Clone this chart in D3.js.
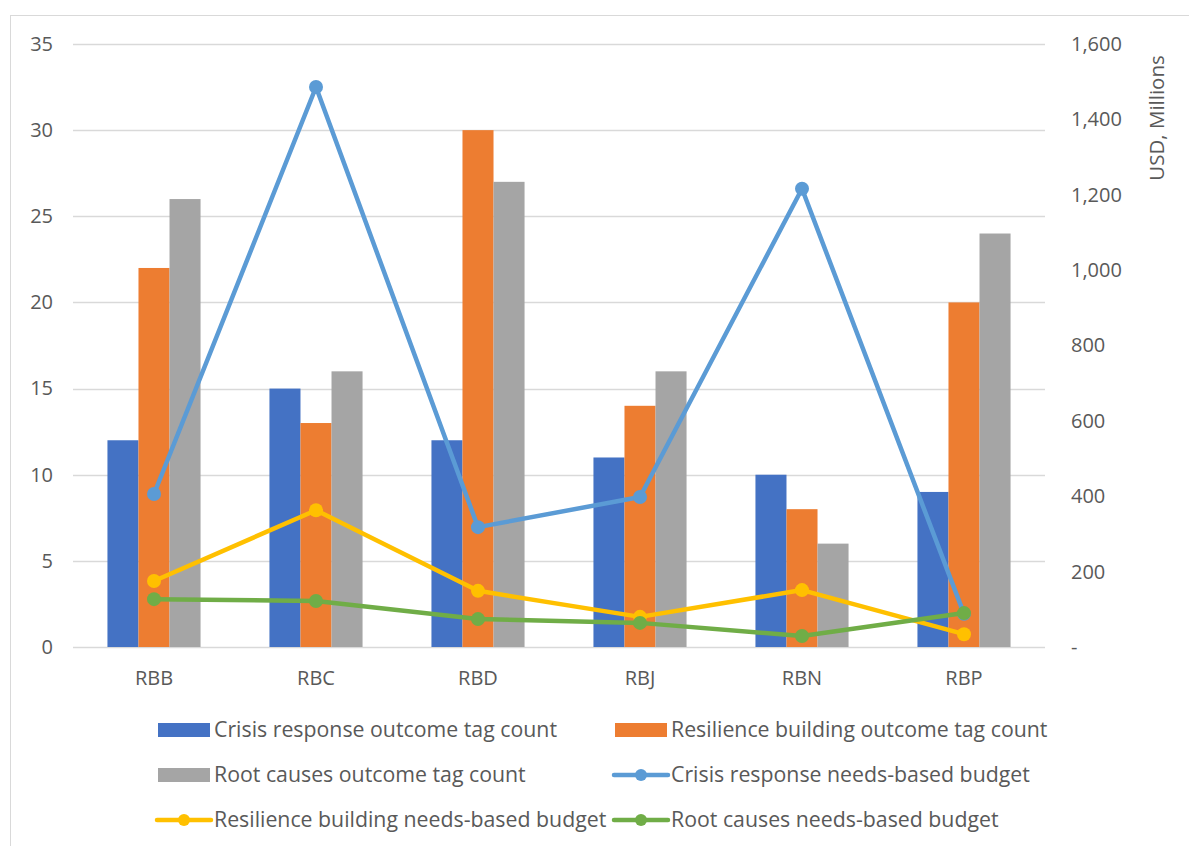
<!DOCTYPE html>
<html>
<head>
<meta charset="utf-8">
<script src="https://cdn.jsdelivr.net/npm/d3@7"></script>
<style>
  body { margin: 0; background: #fff; }
  svg { font-family: "Open Sans", sans-serif; }
</style>
</head>
<body>
<svg id="chart" width="1189" height="846"></svg>
<script>
// categories and series
var regions = ["RBB", "RBC", "RBD", "RBJ", "RBN", "RBP"];

var crisisCount     = [12, 15, 12, 11, 10, 9];
var resilienceCount = [22, 13, 30, 14, 8, 20];
var rootCount       = [26, 16, 27, 16, 6, 24];

var crisisBudget     = [406, 1486, 318, 398, 1216, 88];
var resilienceBudget = [175, 363, 149, 80, 151, 34];
var rootBudget       = [127, 122, 74, 64, 29, 90];

var leftTicks  = [0, 5, 10, 15, 20, 25, 30, 35];
var rightTicks = [0, 200, 400, 600, 800, 1000, 1200, 1400, 1600];

var barSeries = [
  {name: "Crisis response outcome tag count", values: crisisCount, color: "#4472c4"},
  {name: "Resilience building outcome tag count", values: resilienceCount, color: "#ed7d31"},
  {name: "Root causes outcome tag count", values: rootCount, color: "#a5a5a5"}
];
var lineSeries = [
  {name: "Crisis response needs-based budget", values: crisisBudget, color: "#5b9bd5"},
  {name: "Resilience building needs-based budget", values: resilienceBudget, color: "#ffc000"},
  {name: "Root causes needs-based budget", values: rootBudget, color: "#70ad47"}
];

var svg = d3.select("#chart");

// outer chart border (runs off the right/bottom edges)
svg.append("rect")
  .attr("x", 10.5).attr("y", 15.5)
  .attr("width", 1200).attr("height", 900)
  .attr("fill", "none").attr("stroke", "#d9d9d9");

var plotLeft = 73, plotRight = 1045, plotTop = 44, plotBottom = 647;

var x = d3.scaleBand().domain(regions).range([plotLeft, plotRight]);
var xInner = d3.scaleBand().domain([0, 1, 2])
  .range([0, x.bandwidth()]).paddingInner(0).paddingOuter(1.11);
var yL = d3.scaleLinear().domain([0, 35]).range([plotBottom, plotTop]);
var yR = d3.scaleLinear().domain([0, 1600]).range([plotBottom, plotTop]);

// gridlines
svg.append("g").selectAll("line")
  .data(leftTicks)
  .join("line")
  .attr("x1", plotLeft).attr("x2", plotRight)
  .attr("y1", function(d){ return Math.round(yL(d)) + 0.5; })
  .attr("y2", function(d){ return Math.round(yL(d)) + 0.5; })
  .attr("stroke", "#d9d9d9").attr("stroke-width", 1.5);

// left axis
var axL = svg.append("g")
  .attr("transform", "translate(" + plotLeft + ",0)")
  .call(d3.axisLeft(yL).tickValues(leftTicks).tickSize(0).tickPadding(20));
axL.select(".domain").remove();
axL.selectAll("text").attr("fill", "#595959").style("font-size", "20px")
  .style("font-family", "Open Sans");

// right axis
var axR = svg.append("g")
  .attr("transform", "translate(" + plotRight + ",0)")
  .call(d3.axisRight(yR).tickValues(rightTicks).tickSize(0).tickPadding(26)
    .tickFormat(function(d){ return d === 0 ? "-" : d3.format(",")(d); }));
axR.select(".domain").remove();
axR.selectAll("text").attr("fill", "#595959").style("font-size", "20px")
  .style("font-family", "Open Sans");

svg.append("text")
  .attr("transform", "translate(1157,118) rotate(-90)")
  .attr("text-anchor", "middle")
  .attr("dy", "0.35em")
  .attr("fill", "#595959")
  .style("font-size", "20.5px")
  .text("USD, Millions");

// x axis labels
svg.append("g").selectAll("text")
  .data(regions)
  .join("text")
  .attr("x", function(d){ return x(d) + x.bandwidth() / 2; })
  .attr("y", 685)
  .attr("text-anchor", "middle")
  .attr("fill", "#595959")
  .style("font-size", "20px")
  .text(function(d){ return d; });

// bars
barSeries.forEach(function(s, si){
  svg.append("g").selectAll("rect")
    .data(s.values)
    .join("rect")
    .attr("x", function(d, i){ return x(regions[i]) + xInner(si); })
    .attr("width", xInner.bandwidth())
    .attr("y", function(d){ return yL(d); })
    .attr("height", function(d){ return yL(0) - yL(d); })
    .attr("fill", s.color);
});

// lines
var line = d3.line()
  .x(function(d, i){ return x(regions[i]) + x.bandwidth() / 2; })
  .y(function(d){ return yR(d); });

lineSeries.forEach(function(s){
  var g = svg.append("g");
  g.append("path")
    .attr("d", line(s.values))
    .attr("fill", "none")
    .attr("stroke", s.color)
    .attr("stroke-width", 4.5)
    .attr("stroke-linejoin", "round");
  g.selectAll("circle")
    .data(s.values)
    .join("circle")
    .attr("cx", function(d, i){ return x(regions[i]) + x.bandwidth() / 2; })
    .attr("cy", function(d){ return yR(d); })
    .attr("r", 7)
    .attr("fill", s.color);
});

// legend
var legendItems = [
  {s: barSeries[0], type: "bar", col: 0, row: 0},
  {s: barSeries[1], type: "bar", col: 1, row: 0},
  {s: barSeries[2], type: "bar", col: 0, row: 1},
  {s: lineSeries[0], type: "line", col: 1, row: 1},
  {s: lineSeries[1], type: "line", col: 0, row: 2},
  {s: lineSeries[2], type: "line", col: 1, row: 2}
];
var colX = [155, 612], rowY = [730, 775, 820];

var leg = svg.append("g");
legendItems.forEach(function(it){
  var gx = colX[it.col], gy = rowY[it.row];
  if (it.type === "bar") {
    leg.append("rect")
      .attr("x", gx + 3).attr("y", gy - 7)
      .attr("width", 52).attr("height", 14)
      .attr("fill", it.s.color);
  } else {
    leg.append("line")
      .attr("x1", gx + 2).attr("x2", gx + 56)
      .attr("y1", gy).attr("y2", gy)
      .attr("stroke", it.s.color).attr("stroke-width", 4.5)
      .attr("stroke-linecap", "round");
    leg.append("circle")
      .attr("cx", gx + 29).attr("cy", gy).attr("r", 6)
      .attr("fill", it.s.color);
  }
  leg.append("text")
    .attr("x", gx + 59).attr("y", gy)
    .attr("dy", "0.35em")
    .attr("fill", "#595959")
    .style("font-size", "21.3px")
    .text(it.s.name);
});
</script>
</body>
</html>
